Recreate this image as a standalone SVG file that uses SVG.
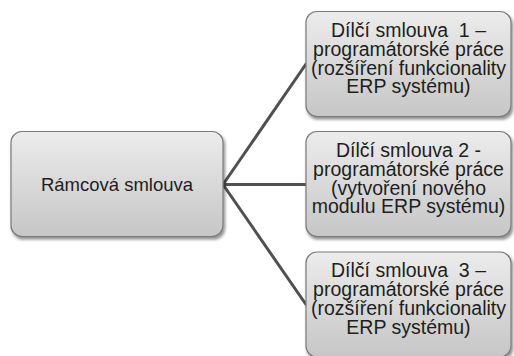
<svg xmlns="http://www.w3.org/2000/svg" width="514" height="356" viewBox="0 0 514 356">
<defs>
<linearGradient id="g" x1="0" y1="0" x2="0" y2="1">
<stop offset="0" stop-color="#ececec"/>
<stop offset="1" stop-color="#c6c6c6"/>
</linearGradient>
<filter id="sh" x="-10%" y="-10%" width="130%" height="130%">
<feDropShadow dx="1.5" dy="2.5" stdDeviation="1.8" flood-color="#000" flood-opacity="0.45"/>
</filter>
</defs>
<style>
.box{fill:url(#g);stroke:#7a7a7a;stroke-width:1.2;filter:url(#sh)}
.t{font-family:"Liberation Sans",Arial,sans-serif;font-size:18.5px;fill:#1e1e1e;text-anchor:middle}
.r{font-size:19.5px}
.c{stroke:#505050;stroke-width:3;fill:none;stroke-linecap:round}
</style>
<rect width="514" height="356" fill="#fff"/>
<g id="connectors">
<line class="c" x1="223" y1="184.5" x2="306" y2="64"/>
<line class="c" x1="223" y1="184.5" x2="306" y2="184.5"/>
<line class="c" x1="223" y1="184.5" x2="306" y2="304.5"/>
</g>
<g id="ramcova">
<rect class="box" x="11" y="131.5" width="212" height="105" rx="11"/>
<text class="t" x="117" y="191">Rámcová smlouva</text>
</g>
<g id="dilci1">
<rect class="box" x="306" y="11.5" width="205" height="105" rx="11"/>
<text class="t r" x="408.5" xml:space="preserve"><tspan x="408.5" y="36.7">Dílčí smlouva  1 –</tspan><tspan x="408.5" y="55.5">programátorské práce</tspan><tspan x="408.5" y="74.5">(rozšíření funkcionality</tspan><tspan x="408.5" y="93">ERP systému)</tspan></text>
</g>
<g id="dilci2">
<rect class="box" x="306" y="131.5" width="205" height="105" rx="11"/>
<text class="t r" x="408.5"><tspan x="408.5" y="156.7">Dílčí smlouva 2 -</tspan><tspan x="408.5" y="175.5">programátorské práce</tspan><tspan x="408.5" y="194.5">(vytvoření nového</tspan><tspan x="408.5" y="213">modulu ERP systému)</tspan></text>
</g>
<g id="dilci3">
<rect class="box" x="306" y="252" width="205" height="105" rx="11"/>
<text class="t r" x="408.5" xml:space="preserve"><tspan x="408.5" y="277.2">Dílčí smlouva  3 –</tspan><tspan x="408.5" y="296">programátorské práce</tspan><tspan x="408.5" y="315">(rozšíření funkcionality</tspan><tspan x="408.5" y="333.5">ERP systému)</tspan></text>
</g>
</svg>
